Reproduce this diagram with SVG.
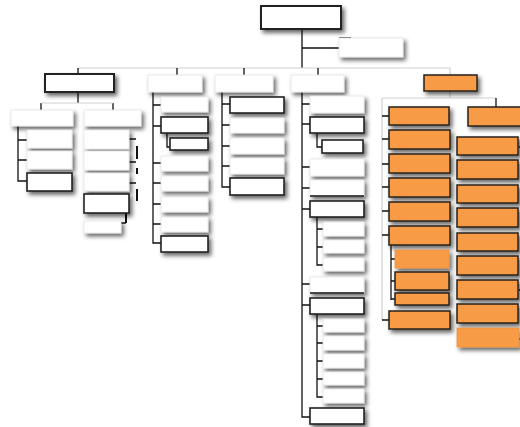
<svg xmlns="http://www.w3.org/2000/svg" width="520" height="427" viewBox="0 0 520 427">
<defs>
<filter id="sh" x="-20%" y="-30%" width="150%" height="190%">
<feDropShadow dx="2.5" dy="3" stdDeviation="1.9" flood-color="#000" flood-opacity="0.6"/>
</filter>
<style>
.w{fill:#fff;stroke:#e4e4e4;stroke-width:0.8;filter:url(#sh)}
.b{fill:#fff;stroke:#222;stroke-width:1.6;filter:url(#sh)}
.bb{fill:#fff;stroke:#222;stroke-width:2;filter:url(#sh)}
.o{fill:#f89b47;stroke:#2a2118;stroke-width:1.5;filter:url(#sh)}
.ol{fill:#f89b47;stroke:#e8913f;stroke-width:0.8;filter:url(#sh)}
.k{stroke:#111;stroke-width:1.3;fill:none}
.kk{stroke:#111;stroke-width:2;fill:none}
.g{stroke:#cfcfcf;stroke-width:1.2;fill:none}
</style>
</defs>
<rect width="520" height="427" fill="#fff"/>
<g id="connectors">
<path class="k" d="M302 29V68M302 48H339M339 38H351"/>
<path class="g" d="M78 68H450V75M450 91V98M382 98H496M382 98V320"/>
<path class="k" d="M496 98V107"/>
<path class="k" d="M78 68V74M177 68V75M244 68V75M318 68V75"/>
<path class="k" d="M78 92V103M41 103V110M113 103V110"/>
<path class="g" d="M41 103H113"/>
<path class="k" d="M18 126V181H27M18 140H27M18 160H27"/>
<path class="k" d="M129 139H136M129 162H136M129 183H136M126 223H121"/>
<path class="kk" d="M137 146V159M137 168V174M137 189V201M126 213V223"/>
<path class="k" d="M153 92V243H161M153 105H161M153 126H161M153 163H161M153 183H161M153 204H161M153 224H161M167 133V147H170"/>
<path class="k" d="M222 92V187H230M222 104H230M222 125H230M222 146H230M222 166H230"/>
<path class="k" d="M302 92V417H310M302 104H310M302 124H310M302 167H310M302 188H310M302 209H310M302 284H310M302 305H310M317 133V147H322"/>
<path class="k" d="M317 217V265H323M317 229H323M317 247H323"/>
<path class="k" d="M317 314V397H323M317 326H323M317 343H323M317 361H323M317 379H323"/>
<path class="k" d="M382 116H389M382 139H389M382 164H389M382 187H389M382 211H389M382 235H389M382 320H389"/>
<path class="k" d="M391 245V300M391 259H395M391 281H395M391 299H395"/>
<path class="k" d="M519 147H520M519 290H520M519 339H520"/>
</g>
<g id="root"><rect class="bb" x="261" y="6" width="80" height="23"/></g>
<g id="assistant"><rect class="w" x="339" y="38" width="64" height="19"/></g>
<g id="colA"><rect class="bb" x="45" y="74" width="69" height="18"/></g>
<g id="colA1"><rect class="w" x="11" y="110" width="62" height="16"/></g>
<g id="colA1-1"><rect class="w" x="27" y="130" width="45" height="18"/></g>
<g id="colA1-2"><rect class="w" x="27" y="151" width="45" height="18"/></g>
<g id="colA1-3"><rect class="b" x="27" y="173" width="45" height="18"/></g>
<g id="colA2"><rect class="w" x="84" y="110" width="57" height="16"/></g>
<g id="colA2-1"><rect class="w" x="84" y="130" width="45" height="19"/></g>
<g id="colA2-2"><rect class="w" x="84" y="151" width="45" height="19"/></g>
<g id="colA2-3"><rect class="w" x="84" y="173" width="45" height="18"/></g>
<g id="colA2-4"><rect class="b" x="84" y="194" width="45" height="19"/></g>
<g id="colA2-5"><rect class="w" x="84" y="221" width="37" height="12"/></g>
<g id="colB"><rect class="w" x="148" y="75" width="54" height="17"/></g>
<g id="colB-1"><rect class="w" x="161" y="97" width="47" height="15"/></g>
<g id="colB-2"><rect class="b" x="161" y="117" width="47" height="16"/></g>
<g id="colB-2a"><rect class="b" x="170" y="138" width="38" height="12"/></g>
<g id="colB-3"><rect class="w" x="161" y="156" width="47" height="15"/></g>
<g id="colB-4"><rect class="w" x="161" y="176" width="47" height="15"/></g>
<g id="colB-5"><rect class="w" x="161" y="197" width="47" height="15"/></g>
<g id="colB-6"><rect class="w" x="161" y="217" width="47" height="15"/></g>
<g id="colB-7"><rect class="b" x="161" y="236" width="47" height="16"/></g>
<g id="colC"><rect class="w" x="215" y="75" width="58" height="17"/></g>
<g id="colC-1"><rect class="b" x="230" y="97" width="54" height="16"/></g>
<g id="colC-2"><rect class="w" x="230" y="118" width="54" height="15"/></g>
<g id="colC-3"><rect class="w" x="230" y="138" width="54" height="16"/></g>
<g id="colC-4"><rect class="w" x="230" y="158" width="54" height="16"/></g>
<g id="colC-5"><rect class="b" x="230" y="178" width="54" height="17"/></g>
<g id="colD"><rect class="w" x="291" y="75" width="53" height="17"/></g>
<g id="colD-1"><rect class="w" x="310" y="96" width="54" height="17"/></g>
<g id="colD-2"><rect class="b" x="310" y="117" width="54" height="16"/></g>
<g id="colD-2a"><rect class="b" x="322" y="140" width="41" height="13"/></g>
<g id="colD-3"><rect class="w" x="310" y="159" width="54" height="17"/></g>
<g id="colD-4"><rect class="w" x="310" y="180" width="54" height="16"/><path class="k" d="M310 196H364"/></g>
<g id="colD-5"><rect class="b" x="310" y="201" width="54" height="16"/></g>
<g id="colD-5a"><rect class="w" x="323" y="222" width="41" height="14"/></g>
<g id="colD-5b"><rect class="w" x="323" y="240" width="41" height="13"/></g>
<g id="colD-5c"><rect class="w" x="323" y="258" width="41" height="13"/></g>
<g id="colD-6"><rect class="w" x="310" y="277" width="54" height="16"/><path class="k" d="M310 293H364"/></g>
<g id="colD-7"><rect class="b" x="310" y="298" width="54" height="16"/></g>
<g id="colD-7a"><rect class="w" x="323" y="319" width="41" height="13"/></g>
<g id="colD-7b"><rect class="w" x="323" y="336" width="41" height="14"/></g>
<g id="colD-7c"><rect class="w" x="323" y="354" width="41" height="14"/></g>
<g id="colD-7d"><rect class="w" x="323" y="372" width="41" height="13"/></g>
<g id="colD-7e"><rect class="w" x="323" y="389" width="41" height="14"/></g>
<g id="colD-8"><rect class="b" x="310" y="408" width="54" height="16"/></g>
<g id="colE"><rect class="o" x="424" y="75" width="53" height="16"/></g>
<g id="colE1-1"><rect class="o" x="389" y="107" width="60" height="18"/></g>
<g id="colE1-2"><rect class="o" x="389" y="130" width="61" height="19"/></g>
<g id="colE1-3"><rect class="o" x="389" y="154" width="61" height="19"/></g>
<g id="colE1-4"><rect class="o" x="389" y="178" width="61" height="19"/></g>
<g id="colE1-5"><rect class="o" x="389" y="202" width="61" height="19"/></g>
<g id="colE1-6"><rect class="o" x="389" y="226" width="61" height="19"/></g>
<g id="colE1-6a"><rect class="ol" x="395" y="250" width="54" height="18"/></g>
<g id="colE1-6b"><rect class="o" x="395" y="272" width="54" height="18"/></g>
<g id="colE1-6c"><rect class="o" x="395" y="293" width="54" height="12"/></g>
<g id="colE1-7"><rect class="o" x="389" y="311" width="61" height="18"/></g>
<g id="colE2"><rect class="o" x="468" y="107" width="56" height="19"/></g>
<g id="colE2-1"><rect class="o" x="457" y="137" width="61" height="18"/></g>
<g id="colE2-2"><rect class="o" x="457" y="160" width="61" height="19"/></g>
<g id="colE2-3"><rect class="o" x="457" y="185" width="61" height="18"/></g>
<g id="colE2-4"><rect class="o" x="457" y="208" width="61" height="19"/></g>
<g id="colE2-5"><rect class="o" x="457" y="233" width="61" height="18"/></g>
<g id="colE2-6"><rect class="o" x="457" y="256" width="61" height="19"/></g>
<g id="colE2-7"><rect class="o" x="457" y="280" width="61" height="19"/></g>
<g id="colE2-8"><rect class="o" x="457" y="304" width="61" height="19"/></g>
<g id="colE2-9"><rect class="ol" x="457" y="328" width="62" height="19"/></g>
</svg>
